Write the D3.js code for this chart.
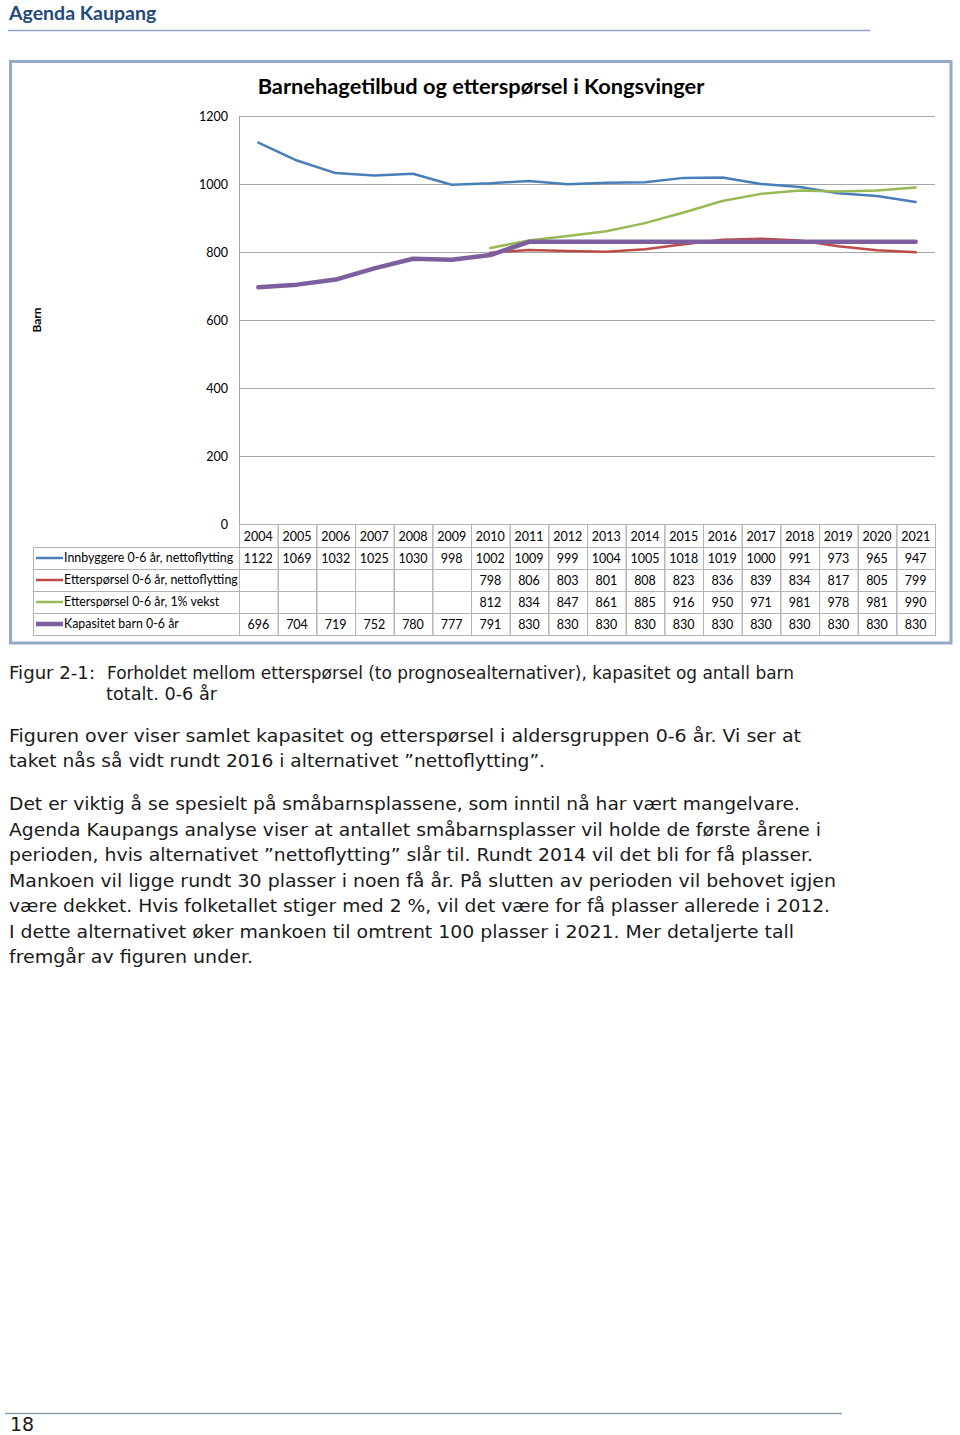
<!DOCTYPE html>
<html><head><meta charset="utf-8">
<script src="https://cdn.jsdelivr.net/npm/d3@7"></script>
<style>body{margin:0;background:#fff}svg{display:block}</style>
</head><body><svg id="c" width="960" height="1435"></svg>
<script>
const years = [2004,2005,2006,2007,2008,2009,2010,2011,2012,2013,2014,2015,2016,2017,2018,2019,2020,2021];
const innbyggere = [1122,1069,1032,1025,1030,998,1002,1009,999,1004,1005,1018,1019,1000,991,973,965,947];
const ettNetto = [null,null,null,null,null,null,798,806,803,801,808,823,836,839,834,817,805,799];
const ettVekst = [null,null,null,null,null,null,812,834,847,861,885,916,950,971,981,978,981,990];
const kapasitet = [696,704,719,752,780,777,791,830,830,830,830,830,830,830,830,830,830,830];
const seriesNames = ["Innbyggere 0-6 år, nettoflytting","Etterspørsel 0-6 år, nettoflytting","Etterspørsel 0-6 år, 1% vekst","Kapasitet barn 0-6 år"];
const yTicks = [0,200,400,600,800,1000,1200];
const title = "Barnehagetilbud og etterspørsel i Kongsvinger";
const yLabel = "Barn";

const svg = d3.select("#c");
svg.append("rect").attr("width",960).attr("height",1435).attr("fill","#fff");

// page header
svg.append("text").attr("x",9).attr("y",19.5).attr("font-family","Lato, 'Open Sans', sans-serif")
  .attr("font-weight","bold").attr("font-size",19.5).attr("fill","#24497a").text("Agenda Kaupang");
svg.append("line").attr("x1",8).attr("x2",870).attr("y1",30.5).attr("y2",30.5).attr("stroke","#8ea5c2").attr("stroke-width",1.5);

// chart frame
svg.append("rect").attr("x",10.5).attr("y",61.5).attr("width",940.5).attr("height",581.5)
  .attr("fill","none").attr("stroke","#94a8c8").attr("stroke-width",3);

const series = [
  {name:seriesNames[0], values:innbyggere, color:"#4a7ebb", w:2.5},
  {name:seriesNames[1], values:ettNetto, color:"#be4b48", w:2.5},
  {name:seriesNames[2], values:ettVekst, color:"#98b954", w:2.5},
  {name:seriesNames[3], values:kapasitet, color:"#7d5fa0", w:4.5}
];

const x = d3.scaleBand().domain(years).range([239,935]).padding(0);
const y = d3.scaleLinear().domain([0,1200]).range([524,116]);
const cx = d => x(d) + x.bandwidth()/2;
const cfont = "Lato, 'Open Sans', sans-serif";

svg.append("text").attr("x",481).attr("y",94).attr("text-anchor","middle").attr("font-family",cfont)
  .attr("font-weight","bold").attr("font-size",21.8).attr("fill","#000").text(title);

// gridlines + y labels
const g = svg.append("g");
g.selectAll("line.grid").data(yTicks.filter(t=>t>0)).join("line")
  .attr("x1",239).attr("x2",935).attr("y1",d=>Math.round(y(d))+0.5).attr("y2",d=>Math.round(y(d))+0.5)
  .attr("stroke","#a6a6a6").attr("stroke-width",1);
g.append("line").attr("x1",239.5).attr("x2",239.5).attr("y1",y(1200)).attr("y2",y(0)).attr("stroke","#a6a6a6");
g.selectAll("text.yt").data(yTicks).join("text")
  .attr("x",228).attr("y",d=>y(d)+4.5).attr("text-anchor","end").attr("font-family",cfont)
  .attr("font-size",12.5).attr("fill","#000").text(d=>d);
svg.append("text").attr("transform","translate(41,320) rotate(-90)").attr("text-anchor","middle")
  .attr("font-family",cfont).attr("font-weight","bold").attr("font-size",12).text(yLabel);

// lines
const line = d3.line().defined(d=>d.v!=null).x(d=>cx(d.yr)).y(d=>y(d.v));
series.forEach(s=>{
  svg.append("path").datum(years.map((yr,i)=>({yr,v:s.values[i]})))
    .attr("d",line).attr("fill","none").attr("stroke",s.color).attr("stroke-width",s.w)
    .attr("stroke-linejoin","round").attr("stroke-linecap","round");
});

// data table
const tcol = "#b4b4b4";
const rowY = [524,547,569,591,613,635];
const t = svg.append("g");
years.forEach(yr=>{
  t.append("rect").attr("x",x(yr)+0.5).attr("y",rowY[0]+0.5).attr("width",x.bandwidth()).attr("height",rowY[1]-rowY[0])
   .attr("fill","none").attr("stroke",tcol);
  t.append("text").attr("x",cx(yr)).attr("y",rowY[0]+16.5).attr("text-anchor","middle").attr("font-family",cfont)
   .attr("font-size",12.5).text(yr);
});
series.forEach((s,ri)=>{
  const y0 = rowY[ri+1], y1 = rowY[ri+2], ym=(y0+y1)/2;
  t.append("rect").attr("x",33.5).attr("y",y0+0.5).attr("width",206).attr("height",y1-y0).attr("fill","none").attr("stroke",tcol);
  t.append("line").attr("x1",36).attr("x2",63).attr("y1",ym).attr("y2",ym).attr("stroke",s.color).attr("stroke-width",s.w);
  t.append("text").attr("x",64).attr("y",ym+4).attr("font-family",cfont).attr("font-size",12.4).text(s.name);
  years.forEach((yr,i)=>{
    t.append("rect").attr("x",x(yr)+0.5).attr("y",y0+0.5).attr("width",x.bandwidth()).attr("height",y1-y0).attr("fill","none").attr("stroke",tcol);
    if(s.values[i]!=null) t.append("text").attr("x",cx(yr)).attr("y",ym+5).attr("text-anchor","middle")
      .attr("font-family",cfont).attr("font-size",12.5).text(s.values[i]);
  });
});

// body text
const bfont = "'DejaVu Sans', Verdana, sans-serif";
const lines = [
  {t:"Figur 2-1:", x:9, y:679, w:86},
  {t:"Forholdet mellom etterspørsel (to prognosealternativer), kapasitet og antall barn", x:107, y:679, w:687},
  {t:"totalt. 0-6 år", x:106, y:700, w:111},
  {t:"Figuren over viser samlet kapasitet og etterspørsel i aldersgruppen 0-6 år. Vi ser at", x:9, y:742, w:792},
  {t:"taket nås så vidt rundt 2016 i alternativet ”nettoflytting”.", x:9, y:767, w:536},
  {t:"Det er viktig å se spesielt på småbarnsplassene, som inntil nå har vært mangelvare.", x:9, y:810, w:791},
  {t:"Agenda Kaupangs analyse viser at antallet småbarnsplasser vil holde de første årene i", x:9, y:836, w:812},
  {t:"perioden, hvis alternativet ”nettoflytting” slår til. Rundt 2014 vil det bli for få plasser.", x:9, y:861, w:804},
  {t:"Mankoen vil ligge rundt 30 plasser i noen få år. På slutten av perioden vil behovet igjen", x:9, y:887, w:827},
  {t:"være dekket. Hvis folketallet stiger med 2 %, vil det være for få plasser allerede i 2012.", x:9, y:912, w:821},
  {t:"I dette alternativet øker mankoen til omtrent 100 plasser i 2021. Mer detaljerte tall", x:9, y:938, w:785},
  {t:"fremgår av figuren under.", x:9, y:963, w:244}
];
svg.selectAll("text.body").data(lines).join("text")
  .attr("x",d=>d.x).attr("y",d=>d.y).attr("font-family",bfont).attr("font-size",18).attr("fill","#1a1a1a")
  .attr("textLength",d=>d.w).attr("lengthAdjust","spacingAndGlyphs").text(d=>d.t);

// footer
svg.append("line").attr("x1",5).attr("x2",842).attr("y1",1413.5).attr("y2",1413.5).attr("stroke","#8aa0b2").attr("stroke-width",1.5);
svg.append("text").attr("x",10).attr("y",1431).attr("font-family",bfont).attr("font-size",19).attr("fill","#1a1a1a").text("18");
</script></body></html>
